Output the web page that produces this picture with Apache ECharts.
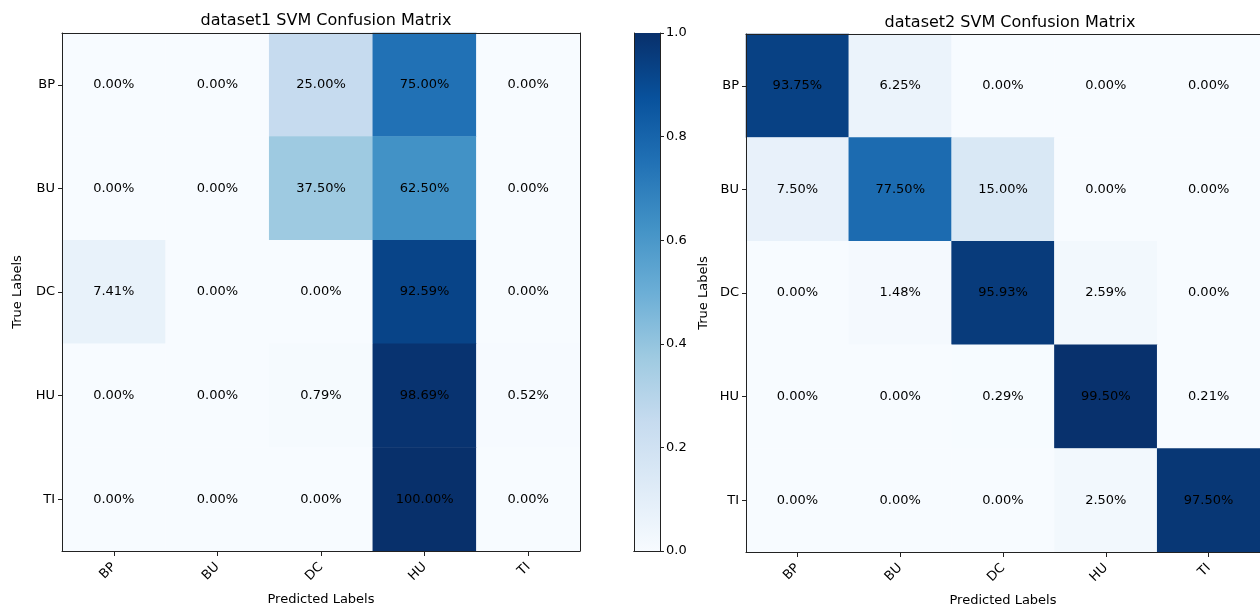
<!DOCTYPE html>
<html>
<head>
<meta charset="utf-8">
<script src="https://cdn.jsdelivr.net/npm/echarts@6/dist/echarts.min.js"></script>
<style>
  html, body { margin: 0; padding: 0; background: #fff; }
  #chart { width: 1260px; height: 612px; }
</style>
</head>
<body>
<div id="chart"></div>
<script>
// Class labels (rows = true label, columns = predicted label)
const categories = ['BP', 'BU', 'DC', 'HU', 'TI'];

// Row-normalised confusion matrices, in percent
const dataset1 = [
  [0.00, 0.00, 25.00, 75.00, 0.00],
  [0.00, 0.00, 37.50, 62.50, 0.00],
  [7.41, 0.00, 0.00, 92.59, 0.00],
  [0.00, 0.00, 0.79, 98.69, 0.52],
  [0.00, 0.00, 0.00, 100.00, 0.00]
];
const dataset2 = [
  [93.75, 6.25, 0.00, 0.00, 0.00],
  [7.50, 77.50, 15.00, 0.00, 0.00],
  [0.00, 1.48, 95.93, 2.59, 0.00],
  [0.00, 0.00, 0.29, 99.50, 0.21],
  [0.00, 0.00, 0.00, 2.50, 97.50]
];

const titles = ['dataset1 SVM Confusion Matrix', 'dataset2 SVM Confusion Matrix'];
const colorbarMax = [1];

// matplotlib "Blues" colormap stops
const blues = ['#f7fbff', '#deebf7', '#c6dbef', '#9ecae1', '#6baed6',
               '#4292c6', '#2171b5', '#08519c', '#08306b'];

const FONT = 'DejaVu Sans';
const FS = 13;
const FRAME = '#222';

function cells(matrix) {
  const out = [];
  matrix.forEach((row, r) => row.forEach((v, c) => out.push([c, r, v])));
  return out;
}

const grids = [
  { left: 62, top: 33, width: 518, height: 518 },
  { left: 746, top: 34, width: 519, height: 519 },
  { left: 634, top: 33, width: 26, height: 518 }
];

const xAxes = [], yAxes = [];
[0, 1].forEach(g => {
  xAxes.push({
    gridIndex: g, type: 'category', data: categories, position: 'bottom', z: 10,
    name: 'Predicted Labels', nameLocation: 'middle', nameGap: 42,
    nameTextStyle: { fontFamily: FONT, fontSize: FS, color: '#000' },
    axisLine: { show: true, lineStyle: { color: FRAME, width: 1 } },
    axisTick: { show: true, alignWithLabel: true, length: 5, lineStyle: { color: FRAME } },
    axisLabel: { rotate: 45, fontFamily: FONT, fontSize: FS, color: '#000', margin: 14 },
    splitLine: { show: false }
  });
  yAxes.push({
    gridIndex: g, type: 'category', data: categories, inverse: true, position: 'left', z: 10,
    name: 'True Labels', nameLocation: 'middle', nameGap: g === 0 ? 38 : 36,
    nameRotate: 90,
    nameTextStyle: { fontFamily: FONT, fontSize: FS, color: '#000' },
    axisLine: { show: true, lineStyle: { color: FRAME, width: 1 } },
    axisTick: { show: true, alignWithLabel: true, length: 4, lineStyle: { color: FRAME } },
    axisLabel: { fontFamily: FONT, fontSize: FS, color: '#000', margin: 7 },
    splitLine: { show: false }
  });
});
// frame lines on the top and right of both matrices
[0, 1].forEach(g => {
  xAxes.push({
    gridIndex: g, type: 'category', data: categories, position: 'top', z: 10,
    axisLine: { show: true, lineStyle: { color: FRAME, width: 1 } },
    axisTick: { show: false }, axisLabel: { show: false }, splitLine: { show: false }
  });
  yAxes.push({
    gridIndex: g, type: 'category', data: categories, inverse: true, position: 'right', z: 10,
    axisLine: { show: true, lineStyle: { color: FRAME, width: 1 } },
    axisTick: { show: false }, axisLabel: { show: false }, splitLine: { show: false }
  });
});
// colorbar axes
xAxes.push({
  gridIndex: 2, type: 'category', data: ['scale'], position: 'bottom', z: 10,
  axisLine: { show: true, lineStyle: { color: FRAME } },
  axisTick: { show: false }, axisLabel: { show: false }
});
xAxes.push({
  gridIndex: 2, type: 'category', data: ['scale'], position: 'top', z: 10,
  axisLine: { show: true, lineStyle: { color: FRAME } },
  axisTick: { show: false }, axisLabel: { show: false }
});
yAxes.push({
  gridIndex: 2, type: 'value', min: 0, max: 1, interval: 0.2, position: 'right', z: 10,
  axisLine: { show: true, onZero: false, lineStyle: { color: FRAME } },
  axisTick: { show: true, length: 4, lineStyle: { color: FRAME } },
  axisLabel: { fontFamily: FONT, fontSize: FS, color: '#000', margin: 6,
               formatter: v => v.toFixed(1) },
  splitLine: { show: false }
});
yAxes.push({
  gridIndex: 2, type: 'value', min: 0, max: 1, position: 'left', z: 10,
  axisLine: { show: true, onZero: false, lineStyle: { color: FRAME } },
  axisTick: { show: false }, axisLabel: { show: false }, splitLine: { show: false }
});

const gradStops = blues.map((c, i) => ({ offset: 1 - i / (blues.length - 1), color: c }));

const labelStyle = {
  show: true, fontFamily: FONT, fontSize: FS, color: '#000',
  formatter: p => p.value[2].toFixed(2) + '%'
};

const option = {
  backgroundColor: '#fff',
  animation: false,
  title: titles.map((t, i) => ({
    text: t,
    left: i === 0 ? 321 : 1005,
    top: i === 0 ? 8 : 10,
    textAlign: 'center',
    textStyle: { fontFamily: FONT, fontSize: 16, fontWeight: 'normal', color: '#000' }
  })),
  grid: grids,
  xAxis: xAxes,
  yAxis: yAxes,
  visualMap: {
    show: false, type: 'continuous', min: 0, max: 100,
    seriesIndex: [0, 1], inRange: { color: blues }
  },
  series: [
    {
      type: 'heatmap', xAxisIndex: 0, yAxisIndex: 0, z: 1,
      data: cells(dataset1), label: labelStyle,
      itemStyle: { borderWidth: 0 }, emphasis: { disabled: true }
    },
    {
      type: 'heatmap', xAxisIndex: 1, yAxisIndex: 1, z: 1,
      data: cells(dataset2), label: labelStyle,
      itemStyle: { borderWidth: 0 }, emphasis: { disabled: true }
    },
    {
      type: 'bar', xAxisIndex: 4, yAxisIndex: 4, barWidth: '100%', z: 1,
      data: colorbarMax, silent: true,
      itemStyle: { color: new echarts.graphic.LinearGradient(0, 0, 0, 1, gradStops) }
    }
  ]
};

const chart = echarts.init(document.getElementById('chart'), null, { renderer: 'canvas' });
chart.setOption(option);
</script>
</body>
</html>
